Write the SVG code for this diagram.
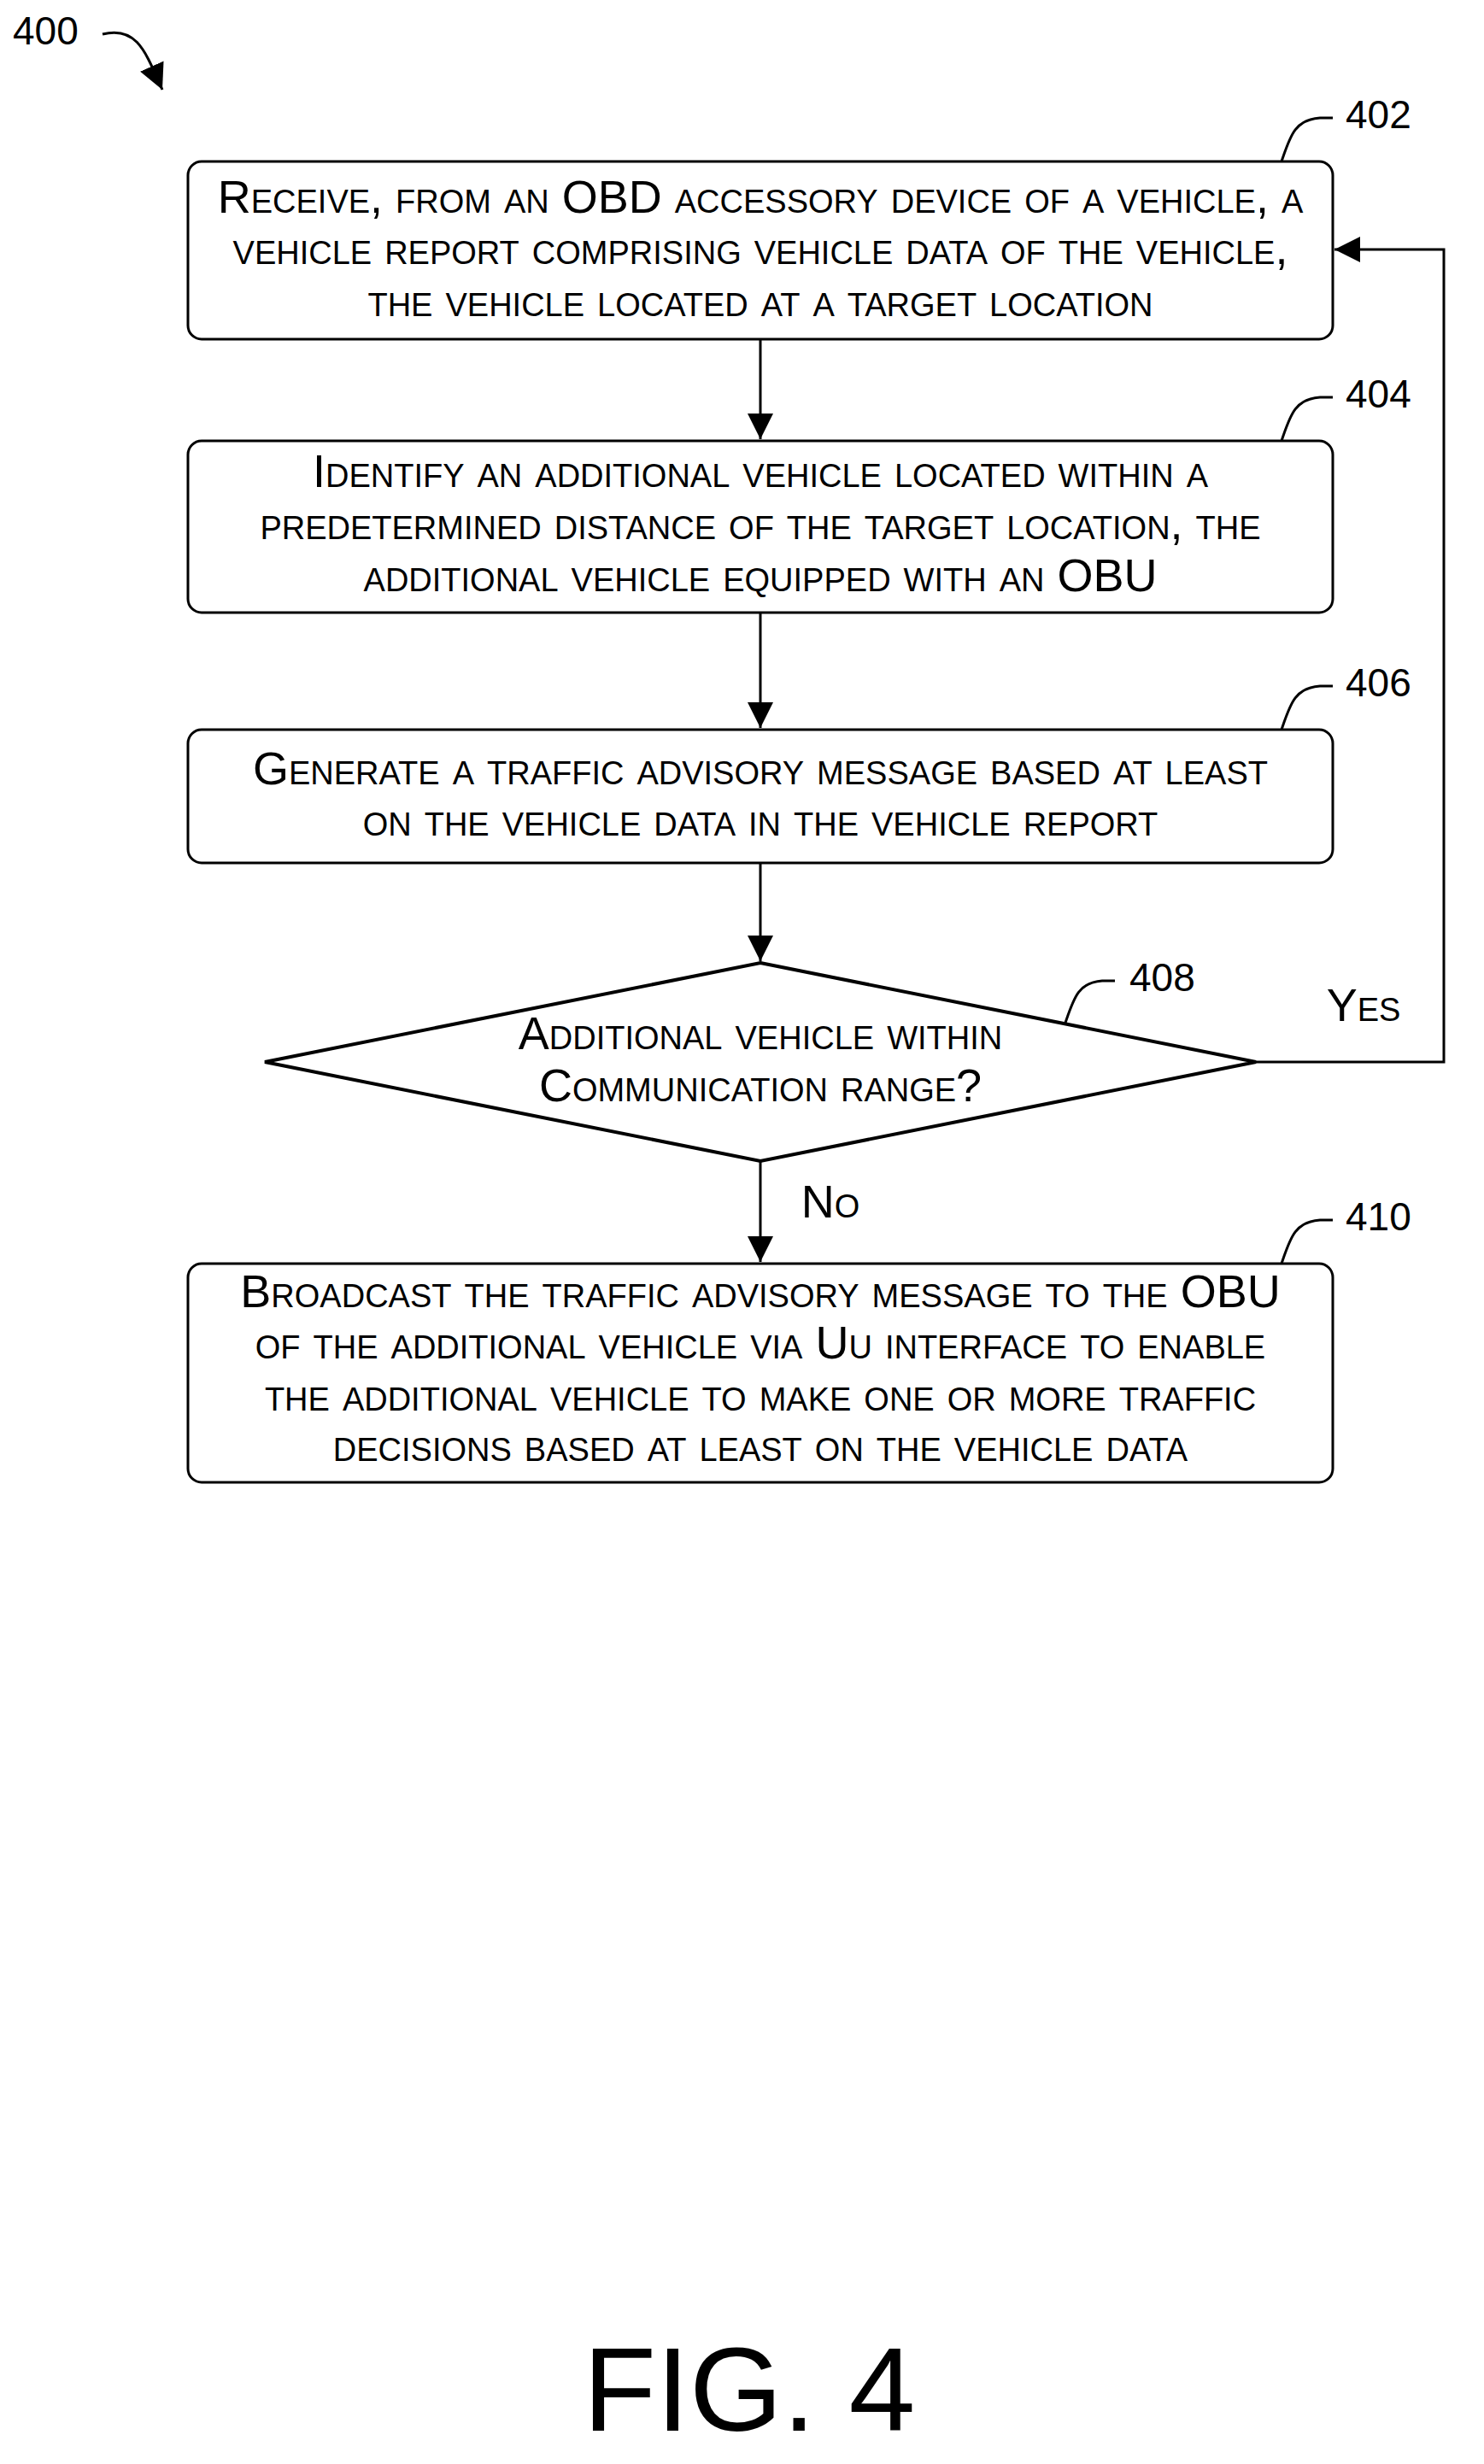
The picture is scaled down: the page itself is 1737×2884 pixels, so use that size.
<svg xmlns="http://www.w3.org/2000/svg" width="1737" height="2884" viewBox="0 0 1737 2884">
<style>
.b{fill:#fff;stroke:#000;stroke-width:3}
.t{font-family:"Liberation Sans",Arial,sans-serif;font-size:54px;font-variant:small-caps;text-anchor:middle;fill:#000}
.n{font-family:"Liberation Sans",Arial,sans-serif;font-size:46px;fill:#000}
.l{fill:none;stroke:#000;stroke-width:3}
</style>
<defs><marker id="a2" markerWidth="30" markerHeight="30" refX="10" refY="5" orient="auto" markerUnits="userSpaceOnUse" viewBox="0 0 10 10"><path d="M0,0L10,5L0,10z"/></marker></defs>
<rect width="1737" height="2884" fill="#fff"/>
<g id="label400"><text class="n" x="15" y="52">400</text><path class="l" d="M120,40 C160,30 170,60 190,105" marker-end="url(#a2)"/></g>
<g id="connectors">
<path class="l" d="M890,397V514" marker-end="url(#a2)"/>
<path class="l" d="M890,717V852" marker-end="url(#a2)"/>
<path class="l" d="M890,1010V1125" marker-end="url(#a2)"/>
<path class="l" d="M890,1359V1477" marker-end="url(#a2)"/>
<path class="l" d="M1470,1243H1690V292H1562" marker-end="url(#a2)"/>
<text class="t" x="1596" y="1195">Yes</text>
<text class="t" x="972" y="1425">No</text>
</g>
<g id="n402"><rect class="b" x="220" y="189" width="1340" height="208" rx="16"/>
<text class="t" x="890" y="249">Receive, from an OBD accessory device of a vehicle, a</text>
<text class="t" x="890" y="309">vehicle report comprising vehicle data of the vehicle,</text>
<text class="t" x="890" y="370">the vehicle located at a target location</text>
<path class="l" d="M1500,189C1510,160 1515,140 1545,138H1560"/><text class="n" x="1575" y="150">402</text></g>
<g id="n404"><rect class="b" x="220" y="516" width="1340" height="201" rx="16"/>
<text class="t" x="890" y="570">Identify an additional vehicle located within a</text>
<text class="t" x="890" y="631">predetermined distance of the target location, the</text>
<text class="t" x="890" y="692">additional vehicle equipped with an OBU</text>
<path class="l" d="M1500,516C1510,487 1515,467 1545,465H1560"/><text class="n" x="1575" y="477">404</text></g>
<g id="n406"><rect class="b" x="220" y="854" width="1340" height="156" rx="16"/>
<text class="t" x="890" y="918">Generate a traffic advisory message based at least</text>
<text class="t" x="890" y="978">on the vehicle data in the vehicle report</text>
<path class="l" d="M1500,854C1510,825 1515,805 1545,803H1560"/><text class="n" x="1575" y="815">406</text></g>
<g id="n408"><path class="b" style="stroke-width:4" d="M890,1127L1470,1243L890,1359L310,1243Z"/>
<text class="t" x="890" y="1228">Additional vehicle within</text>
<text class="t" x="890" y="1289">Communication range?</text>
<path class="l" d="M1247,1197C1257,1168 1262,1150 1290,1148H1305"/><text class="n" x="1322" y="1160">408</text></g>
<g id="n410"><rect class="b" x="220" y="1479" width="1340" height="256" rx="16"/>
<text class="t" x="890" y="1530">Broadcast the traffic advisory message to the OBU</text>
<text class="t" x="890" y="1590">of the additional vehicle via Uu interface to enable</text>
<text class="t" x="890" y="1651">the additional vehicle to make one or more traffic</text>
<text class="t" x="890" y="1710">decisions based at least on the vehicle data</text>
<path class="l" d="M1500,1479C1510,1450 1515,1430 1545,1428H1560"/><text class="n" x="1575" y="1440">410</text></g>
<text x="877" y="2845" font-family="Liberation Sans,Arial,sans-serif" font-size="140" text-anchor="middle">FIG. 4</text>
</svg>
